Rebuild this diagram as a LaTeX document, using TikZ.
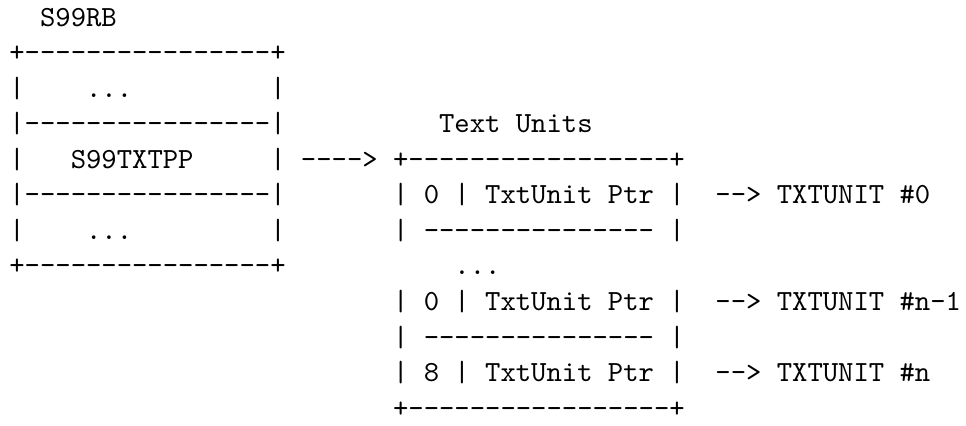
\documentclass[tikz,border=0pt]{standalone}
\usepackage{tikz}
\tikzset{
    cell/.style = {anchor=base west,
                  inner sep=0pt,
                  outer sep=0pt,
                  text=black,
                  font=\ttfamily}}

\begin{document}
\begin{tikzpicture}[x=5.25pt,y=12.16pt]
            \useasboundingbox (-3.2pt,-136.8pt) rectangle (327.2pt,8.9pt);
            \node[cell]       (rbname) at (2,0)          {S99RB};
            \node[cell]       (rbtop) at (0,-1)          {+{-}{-}{-}{-}{-}{-}{-}{-}{-}{-}{-}{-}{-}{-}{-}{-}+};
            \node[cell]       (rbal) at (0,-2)           {|};
            \node[cell]       (rbadots) at (5,-2)        {...};
            \node[cell]       (rbar) at (17,-2)          {|};
            \node[cell]       (rbsepa) at (0,-3)         {|{-}{-}{-}{-}{-}{-}{-}{-}{-}{-}{-}{-}{-}{-}{-}{-}|};
            \node[cell]       (tuname) at (28,-3)        {Text Units};
            \node[cell]       (rbbl) at (0,-4)           {|};
            \node[cell]       (txtpp) at (4,-4)          {S99TXTPP};
            \node[cell]       (rbbr) at (17,-4)          {|};
            \node[cell]       (ptrarrow) at (19,-4)      {{-}{-}{-}{-}>};
            \node[cell]       (tutop) at (25,-4)         {+{-}{-}{-}{-}{-}{-}{-}{-}{-}{-}{-}{-}{-}{-}{-}{-}{-}+};
            \node[cell]       (rbsepb) at (0,-5)         {|{-}{-}{-}{-}{-}{-}{-}{-}{-}{-}{-}{-}{-}{-}{-}{-}|};
            \node[cell]       (tuzero) at (25,-5)        {| 0 | TxtUnit Ptr |};
            \node[cell]       (tgtzero) at (46,-5)       {{-}{-}> TXTUNIT \#0};
            \node[cell]       (rbcl) at (0,-6)           {|};
            \node[cell]       (rbcdots) at (5,-6)        {...};
            \node[cell]       (rbcr) at (17,-6)          {|};
            \node[cell]       (tusepa) at (25,-6)        {| {-}{-}{-}{-}{-}{-}{-}{-}{-}{-}{-}{-}{-}{-}{-} |};
            \node[cell]       (rbbot) at (0,-7)          {+{-}{-}{-}{-}{-}{-}{-}{-}{-}{-}{-}{-}{-}{-}{-}{-}+};
            \node[cell]       (tudots) at (29,-7)        {...};
            \node[cell]       (tunmone) at (25,-8)       {| 0 | TxtUnit Ptr |};
            \node[cell]       (tgtnmone) at (46,-8)      {{-}{-}> TXTUNIT \#n{-}1};
            \node[cell]       (tusepb) at (25,-9)        {| {-}{-}{-}{-}{-}{-}{-}{-}{-}{-}{-}{-}{-}{-}{-} |};
            \node[cell]       (tun) at (25,-10)          {| 8 | TxtUnit Ptr |};
            \node[cell]       (tgtn) at (46,-10)         {{-}{-}> TXTUNIT \#n};
            \node[cell]       (tubot) at (25,-11)        {+{-}{-}{-}{-}{-}{-}{-}{-}{-}{-}{-}{-}{-}{-}{-}{-}{-}+};
        \end{tikzpicture}
\end{document}
